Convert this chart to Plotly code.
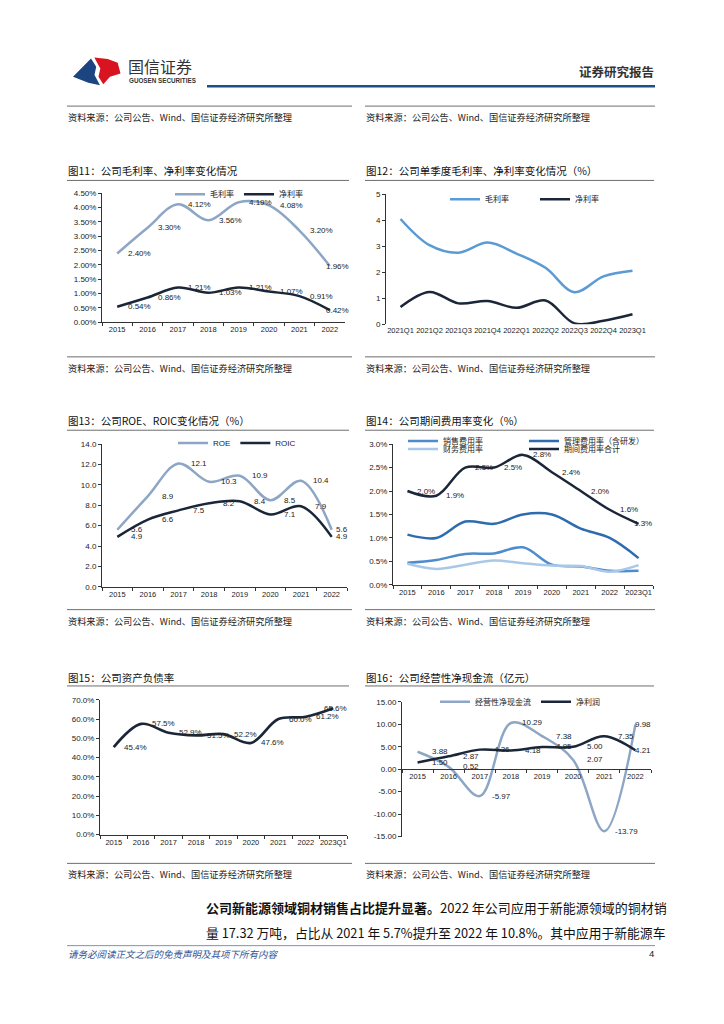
import plotly.graph_objects as go

W, H = 724, 1024


def px(x):
    return x / W


def py(y):
    return 1 - y / H


# ---------------- data ----------------
years = ["2015", "2016", "2017", "2018", "2019", "2020", "2021", "2022"]
years_q = ["2015", "2016", "2017", "2018", "2019", "2020", "2021", "2022", "2023Q1"]
quarters = ["2021Q1", "2021Q2", "2021Q3", "2021Q4", "2022Q1", "2022Q2", "2022Q3", "2022Q4", "2023Q1"]

# Fig 11: gross / net margin (%)
gross_margin = [2.40, 3.30, 4.12, 3.56, 4.19, 4.08, 3.20, 1.96]
net_margin = [0.54, 0.86, 1.21, 1.03, 1.21, 1.07, 0.91, 0.42]

# Fig 12: quarterly gross / net margin (%)
q_gross = [4.05, 3.04, 2.75, 3.14, 2.72, 2.17, 1.23, 1.84, 2.06]
q_net = [0.66, 1.24, 0.80, 0.89, 0.63, 0.91, 0.03, 0.13, 0.38]

# Fig 13: ROE / ROIC (%)
roe = [5.6, 8.9, 12.1, 10.3, 10.9, 8.5, 10.4, 5.6]
roic = [4.9, 6.6, 7.5, 8.2, 8.4, 7.1, 7.9, 4.9]

# Fig 14: expense ratios (%)
sales_exp = [0.47, 0.53, 0.66, 0.67, 0.80, 0.43, 0.39, 0.30, 0.30]
admin_exp = [1.07, 1.00, 1.35, 1.30, 1.50, 1.50, 1.20, 1.00, 0.57]
fin_exp = [0.45, 0.34, 0.43, 0.52, 0.46, 0.41, 0.40, 0.28, 0.42]
total_exp = [2.0, 1.9, 2.5, 2.5, 2.77, 2.4, 2.0, 1.6, 1.3]

# Fig 15: debt-to-asset ratio (%)
debt_ratio = [45.4, 57.5, 52.9, 51.5, 52.2, 47.6, 60.0, 61.2, 65.6]

# Fig 16: operating cash flow / net profit (亿元)
op_cash = [3.88, 0.52, -5.97, 10.29, 7.38, 2.07, -13.79, 9.98]
net_profit = [1.50, 2.87, 4.36, 4.18, 4.95, 5.00, 7.35, 4.21]
cf_ticks = [-15, -10, -5, 0, 5, 10, 15]

# ---------------- styles ----------------
FONT = "Liberation Sans, Noto Sans CJK SC, sans-serif"
CJK = "Noto Sans CJK SC, sans-serif"
GREYBLUE = "#8EA6C6"
NAVY = "#1B2638"
BRIGHT = "#5B9BD5"
AX = "#333333"

fig = go.Figure()
annotations = []
shapes = []


def add_line(x, y, color, name, xa, ya, legend=None, width=2.5):
    fig.add_trace(go.Scatter(
        x=x, y=y, mode="lines", name=name,
        line=dict(color=color, width=width, shape="spline", smoothing=1.0),
        xaxis=xa, yaxis=ya, legend=legend or "legend",
        showlegend=legend is not None, hoverinfo="skip"))


def add_labels(y, fmt, xa, ya, shift=22, last_shift=8, yshift=0):
    n = len(y)
    for i, yi in enumerate(y):
        annotations.append(dict(
            x=i, y=yi, xref=xa, yref=ya, text=fmt(yi), showarrow=False,
            xshift=shift if i < n - 1 else last_shift, yshift=yshift,
            font=dict(size=8, color="#222", family=FONT)))


def xcfg(x0, x1, y_anchor, n, showline=True):
    return dict(domain=[px(x0), px(x1)], anchor=y_anchor, type="category",
                range=[-0.5, n - 0.5], showline=showline, linecolor=AX, linewidth=1,
                ticks="outside" if showline else "", tickson="boundaries", ticklen=3,
                tickcolor=AX, showgrid=False, zeroline=False, tickangle=0,
                tickfont=dict(size=7.5, color="#222", family=FONT))


def ycfg(y_top, y_bot, x_anchor, rng, dtick, fmt, suffix=""):
    return dict(domain=[py(y_bot), py(y_top)], anchor=x_anchor, range=rng, dtick=dtick,
                tick0=rng[0], tickformat=fmt, ticksuffix=suffix, showline=True,
                linecolor=AX, linewidth=1, ticks="outside", ticklen=3, tickcolor=AX,
                showgrid=False, zeroline=False,
                tickfont=dict(size=8, color="#222", family=FONT))


# ---- Fig 11
add_line(years, gross_margin, GREYBLUE, "毛利率", "x", "y", "legend")
add_line(years, net_margin, NAVY, "净利率", "x", "y", "legend")
add_labels(gross_margin, lambda v: f"{v:.2f}%", "x", "y")
add_labels(net_margin, lambda v: f"{v:.2f}%", "x", "y")

# ---- Fig 12
add_line(quarters, q_gross, BRIGHT, "毛利率", "x2", "y2", "legend2")
add_line(quarters, q_net, NAVY, "净利率", "x2", "y2", "legend2")

# ---- Fig 13
add_line(years, roe, GREYBLUE, "ROE", "x3", "y3", "legend3")
add_line(years, roic, NAVY, "ROIC", "x3", "y3", "legend3")
add_labels(roe, lambda v: f"{v:.1f}", "x3", "y3", shift=20, last_shift=10)
add_labels(roic, lambda v: f"{v:.1f}", "x3", "y3", shift=20, last_shift=10)

# ---- Fig 14
add_line(years_q, sales_exp, "#4F8CCB", "销售费用率", "x4", "y4", "legend4")
add_line(years_q, admin_exp, "#2E6CB0", "管理费用率（含研发）", "x4", "y4", "legend4")
add_line(years_q, fin_exp, "#A9C8E8", "财务费用率", "x4", "y4", "legend5")
add_line(years_q, total_exp, NAVY, "期间费用率合计", "x4", "y4", "legend5")
add_labels(total_exp, lambda v: f"{v:.1f}%", "x4", "y4", shift=19, last_shift=4)

# ---- Fig 15
add_line(years_q, debt_ratio, NAVY, "资产负债率", "x5", "y5", None, width=2.7)
add_labels(debt_ratio, lambda v: f"{v:.1f}%", "x5", "y5", shift=22, last_shift=2)

# ---- Fig 16
add_line(years, op_cash, GREYBLUE, "经营性净现金流", "x6", "y6", "legend6")
add_line(years, net_profit, NAVY, "净利润", "x6", "y6", "legend6")
add_labels(op_cash, lambda v: f"{v:.2f}", "x6", "y6", shift=22, last_shift=8)
add_labels(net_profit, lambda v: f"{v:.2f}", "x6", "y6", shift=22, last_shift=8)

# ---------------- axes ----------------
lay = {}
lay["xaxis"] = xcfg(102, 345, "y", len(years))
lay["yaxis"] = ycfg(191, 321, "x", [0, 4.5], 0.5, ".2f", "%")
lay["xaxis2"] = xcfg(386, 647, "y2", len(quarters), showline=False)
lay["yaxis2"] = ycfg(192, 323, "x2", [0, 5], 1, "d")
lay["xaxis3"] = xcfg(102, 347, "y3", len(years))
lay["yaxis3"] = ycfg(444, 588, "x3", [0, 14], 2, ".1f")
lay["xaxis4"] = xcfg(393, 653, "y4", len(years_q))
lay["yaxis4"] = ycfg(444, 586, "x4", [0, 3], 0.5, ".1f", "%")
lay["xaxis5"] = xcfg(100, 347, "y5", len(years_q))
lay["yaxis5"] = ycfg(702, 838, "x5", [0, 70], 10, ".1f", "%")
x6 = xcfg(402, 651, "free", len(years))
y6 = ycfg(704, 840, "x6", [cf_ticks[0], cf_ticks[-1]], 5, ".2f")
y6.update(tickmode="array", tickvals=cf_ticks, ticktext=[f"{v:.2f}" for v in cf_ticks])
x6["position"] = (y6["domain"][0] + y6["domain"][1]) / 2
lay["xaxis6"] = x6
lay["yaxis6"] = y6


def leg(x, y, entrywidth=None):
    d = dict(orientation="h", x=px(x), xanchor="left", y=py(y), yanchor="middle",
             bgcolor="rgba(0,0,0,0)", font=dict(size=8, color="#222", family=FONT),
             itemwidth=30, tracegroupgap=0)
    if entrywidth:
        d["entrywidth"] = entrywidth
        d["entrywidthmode"] = "pixels"
    return d


lay["legend"] = leg(170, 192)
lay["legend2"] = leg(445, 197, 45)
lay["legend3"] = leg(173, 443)
lay["legend4"] = leg(403, 441, 76)
lay["legend5"] = leg(403, 449, 76)
lay["legend6"] = leg(435, 704)

# ---------------- page decorations ----------------
def hline(x0, x1, y, color="#6E6E6E", width=1):
    shapes.append(dict(type="line", xref="paper", yref="paper", x0=px(x0), x1=px(x1),
                       y0=py(y), y1=py(y), line=dict(color=color, width=width)))


def poly(points, color):
    path = "M " + " L ".join(f"{px(a):.5f},{py(b):.5f}" for a, b in points) + " Z"
    shapes.append(dict(type="path", xref="paper", yref="paper", path=path,
                       fillcolor=color, line=dict(width=0)))


def text(x, y, s, size, color="#222", anchor="left", family=CJK):
    annotations.append(dict(x=px(x), y=py(y), xref="paper", yref="paper", text=s,
                            showarrow=False, xanchor=anchor, yanchor="middle",
                            font=dict(size=size, color=color, family=family)))


# logo
poly([(94.3, 54), (107.7, 55.5), (117.7, 59.3), (120.5, 70), (110, 73.3), (103.3, 81),
      (98.5, 73.3), (100.3, 65), (94.3, 54)], "#D7141F")
poly([(73, 73.5), (91, 55), (96.2, 63.3), (94.5, 71.7), (100, 82), (88.3, 79.5)], "#1C4480")
text(126, 63, "国信证券", 16, "#333333")
text(127, 77.5, "<b>GUOSEN SECURITIES</b>", 6.3, "#333333", family=FONT)
text(656, 68, "<b>证券研究报告</b>", 12.5, "#333333", anchor="right")
hline(207, 655, 83, "#1F4E8C", 2.5)

src = "资料来源：公司公告、Wind、国信证券经济研究所整理"
for ys, yl in [(114, 103), (367, 356), (622, 611), (878, 867)]:
    hline(67, 352, yl)
    hline(365, 655, yl)
    text(66, ys, src, 9.2, "#222")
    text(364, ys, src, 9.2, "#222")

titles = [
    (168, "图11：公司毛利率、净利率变化情况", "图12：公司单季度毛利率、净利率变化情况（%）", 178),
    (420, "图13：公司ROE、ROIC变化情况（%）", "图14：公司期间费用率变化（%）", 430),
    (679, "图15：公司资产负债率", "图16：公司经营性净现金流（亿元）", 688),
]
for yt, tl, tr, yl in titles:
    text(66, yt, tl, 10.5, "#111")
    text(364, yt, tr, 10.5, "#111")
    hline(67, 349, yl)
    hline(365, 654, yl)

text(204, 912, "<b>公司新能源领域铜材销售占比提升显著。</b>2022 年公司应用于新能源领域的铜材销", 13.0, "#111")
text(204, 937, "量 17.32 万吨，占比从 2021 年 5.7%提升至 2022 年 10.8%。其中应用于新能源车", 12.8, "#111")

hline(67, 655, 950, "#7A93B8", 1)
text(66, 958, "<i>请务必阅读正文之后的免责声明及其项下所有内容</i>", 9.5, "#2F5597")
text(656, 958, "4", 9.5, "#222", anchor="right", family=FONT)

fig.update_layout(
    width=W, height=H, margin=dict(l=0, r=0, t=0, b=0),
    paper_bgcolor="white", plot_bgcolor="white",
    font=dict(family=FONT, size=8, color="#222"),
    annotations=annotations, shapes=shapes, **lay)

fig.write_html("out.html", config={"displayModeBar": False},
               post_script="document.body.style.margin='0px';")
